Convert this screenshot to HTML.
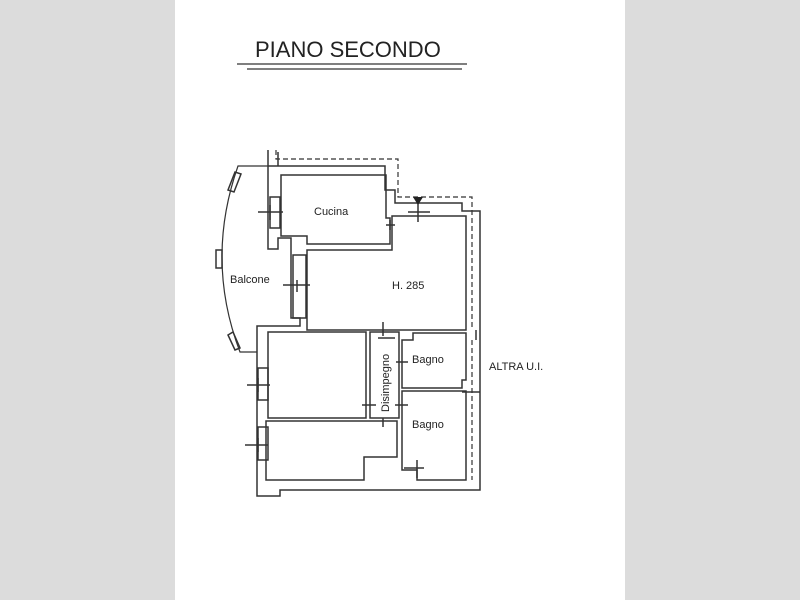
<!DOCTYPE html>
<html><head><style>
body{margin:0;width:800px;height:600px;background:#dcdcdc;overflow:hidden}
.p{position:absolute;left:175px;top:0;width:450px;height:600px;background:#fff}
svg{position:absolute;left:0;top:0}
text{font-family:"Liberation Sans",sans-serif;fill:#222}
</style></head><body>
<div class="p"></div>
<svg width="800" height="600" viewBox="0 0 800 600">
<text x="255" y="57" font-size="22">PIANO SECONDO</text>
<line x1="237" y1="64" x2="467" y2="64" stroke="#333" stroke-width="1.3"/>
<line x1="247" y1="69" x2="462" y2="69" stroke="#333" stroke-width="1.3"/>
<g fill="none" stroke="#333" stroke-width="1.5">
<path d="M268 150 V249 H278 V238 H291 V318 H300 V326 H257 V496 H280 V490 H480 V211 H462 V203 H395 V190 H385 V166 H268"/>
<path d="M278 152 V166"/>
<path d="M276 150 V159 H398 V197 H472 V330 M472 340 V480" stroke-dasharray="5,3" stroke-width="1.2"/>
<path d="M281 175 H386 V218 H390 V244 H307 V236 H281 Z"/>
<path d="M307 250 V330 H466 V216 H392 V250 Z"/>
<path d="M268 332 H366 V418 H268 Z"/>
<path d="M370 332 H399 V418 H370 Z"/>
<path d="M402 340 H413 V333 H466 V380 H462 V388 H402 Z"/>
<path d="M402 391 H466 V480 H417 V470 H402 Z"/>
<path d="M266 421 H397 V457 H364 V480 H266 Z"/>
<path d="M268 166 H238 Q205 260 240 352 H257" stroke-width="1.2"/>
<path d="M235 172 L228 190 L234 192 L241 174 Z"/>
<path d="M216 250 H222 V268 H216 Z"/>
<path d="M228 335 L235 350 L240 348 L233 332 Z"/>
<path d="M270 197 H280 V228 H270 Z"/>
<path d="M258 212 H283"/><path d="M270 205 V220"/>
<path d="M293 255 H306 V318 H293 Z"/>
<path d="M283 285 H310"/><path d="M297 280 V292"/>
<path d="M258 368 H268 V400 H258 Z"/><path d="M247 385 H270"/><path d="M258 378 V392"/>
<path d="M258 427 H268 V460 H258 Z"/><path d="M245 445 H268"/><path d="M258 438 V452"/>
<path d="M386 225 H395"/><path d="M390 220 V230"/>
<path d="M383 322 V336"/><path d="M378 338 H395"/>
<path d="M362 405 H376"/><path d="M395 405 H408"/><path d="M383 418 V427"/>
<path d="M396 362 H408"/>
<path d="M404 468 H424"/><path d="M417 460 V478"/>
<path d="M418 200 V222"/><path d="M408 212 H430"/>
<path d="M476 330 V340 M462 392 H480"/>
</g>
<path d="M413 197 L423 197 L418 205 Z" fill="#222"/>
<text x="314" y="215" font-size="11">Cucina</text>
<text x="230" y="283" font-size="11">Balcone</text>
<text x="392" y="289" font-size="11">H. 285</text>
<text x="412" y="363" font-size="11">Bagno</text>
<text x="412" y="428" font-size="11">Bagno</text>
<text x="489" y="370" font-size="11">ALTRA U.I.</text>
<text transform="translate(389,412) rotate(-90)" font-size="11">Disimpegno</text>
</svg>
</body></html>
